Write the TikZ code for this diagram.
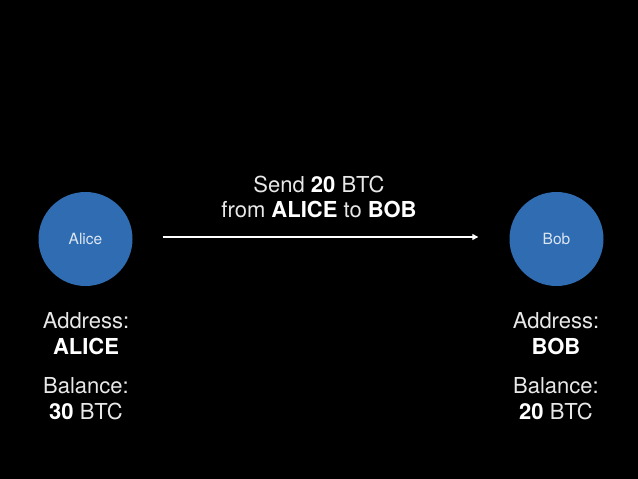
\documentclass[tikz,border=0pt]{standalone}
\usepackage{fontspec}
\setmainfont{TeX Gyre Heros}
\usetikzlibrary{arrows.meta}
\definecolor{bubble}{RGB}{47,108,178}
\definecolor{bubbletext}{RGB}{220,230,242}
\definecolor{lighttext}{RGB}{232,232,232}
\tikzset{
  person/.style={circle, fill=bubble, minimum size=94pt, inner sep=0pt,
    text=bubbletext, font=\fontsize{15.5}{18}\selectfont},
  info/.style={anchor=base, text=lighttext, inner sep=0pt,
    font=\fontsize{22}{26}\selectfont},
  flow/.style={draw=white, line width=1.3pt, -{Triangle[length=6pt,width=6pt]}}
}
\newcommand{\boldwhite}[1]{\textcolor{white}{\bfseries #1}}
\begin{document}
\begin{tikzpicture}[x=1pt,y=-1pt]
\fill[black] (0,0) rectangle (638,479);
\useasboundingbox (0,0) rectangle (638,479);
\node[person] (alice) at (85.5,239) {Alice};
\node[person] (bob) at (556.5,239) {Bob};
\draw[flow, shorten <=30pt, shorten >=31pt] ([yshift=2pt]alice.east) -- ([yshift=2pt]bob.west);
\node[info] (send1) at (319,192) {Send \boldwhite{20} BTC};
\node[info] (send2) at (319,217) {from \boldwhite{ALICE} to \boldwhite{BOB}};
\node[info] (aaddr) at (86,328) {Address:};
\node[info] (aname) at (86,354) {\boldwhite{ALICE}};
\node[info] (abal) at (86,393) {Balance:};
\node[info] (aamt) at (86,419) {\boldwhite{30} BTC};
\node[info] (baddr) at (556,328) {Address:};
\node[info] (bname) at (556,354) {\boldwhite{BOB}};
\node[info] (bbal) at (556,393) {Balance:};
\node[info] (bamt) at (556,419) {\boldwhite{20} BTC};
\end{tikzpicture}
\end{document}
